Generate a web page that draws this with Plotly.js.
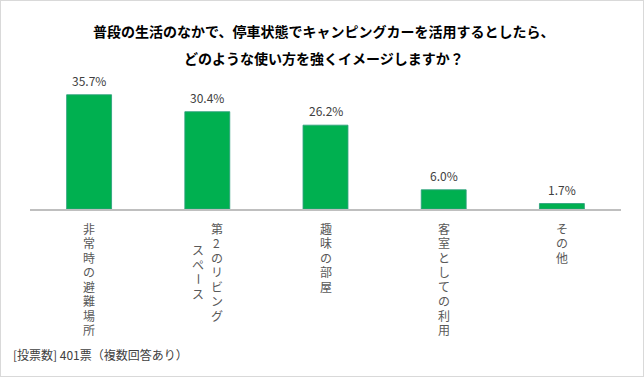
<!DOCTYPE html>
<html>
<head>
<meta charset="utf-8">
<script src="https://cdn.plot.ly/plotly-3.0.1.min.js"></script>
<style>
  html, body { margin: 0; padding: 0; background: #fff; }
  #wrap { position: relative; width: 644px; height: 377px; }
  #chart { width: 644px; height: 377px; }
  #frame { position: absolute; left: 0; top: 0; width: 642px; height: 375px; border: 1px solid #d9d9d9; pointer-events: none; }
</style>
</head>
<body>
<div id="wrap"><div id="chart"></div><div id="frame"></div></div>
<script>
// ---- data ----
const categories = ['非常時の避難場所', '第2のリビング|スペース', '趣味の部屋', '客室としての利用', 'その他'];
const values = [35.7, 30.4, 26.2, 6.0, 1.7];
const titleLines = ['普段の生活のなかで、停車状態でキャンピングカーを活用するとしたら、', 'どのような使い方を強くイメージしますか？'];
const footnote = '[投票数] 401票（複数回答あり）';

const JP = '"Noto Sans CJK JP", "Noto Sans", sans-serif';
const xKeys = categories.map((c, i) => 'c' + i);

const annotations = [];

// title lines
titleLines.forEach((t, i) => {
  annotations.push({
    xref: 'paper', yref: 'paper', x: 0.5, y: 1, xanchor: 'center', yanchor: 'middle',
    xshift: -2, yshift: 50 - i * 27, showarrow: false,
    text: '<b>' + t + '</b>', font: {family: JP, size: 14, color: '#000'}
  });
});

// value labels
values.forEach((v, i) => {
  annotations.push({
    x: xKeys[i], y: v, xref: 'x', yref: 'y', yanchor: 'bottom', yshift: 4,
    showarrow: false, text: v.toFixed(1) + '%',
    font: {family: JP, size: 12, color: '#404040'}
  });
});

// vertical category labels: one character per annotation, columns right-to-left
const STEP = 14.5;
categories.forEach((c, i) => {
  const cols = c.split('|').map(s => Array.from(s));
  const n = cols.length;
  const maxLen = Math.max(...cols.map(a => a.length));
  cols.forEach((chars, j) => {
    const offset = (n - 1) / 2 - j;
    const startShift = (maxLen - chars.length) / 2 * STEP;
    chars.forEach((ch, k) => {
      annotations.push({
        x: xKeys[i], y: 0, xref: 'x', yref: 'paper', yanchor: 'middle', xanchor: 'center',
        xshift: offset * 19, yshift: -(19 + startShift + k * STEP), showarrow: false,
        textangle: ch === 'ー' ? 90 : 0,
        text: ch, font: {family: JP, size: 12, color: '#595959'}
      });
    });
  });
});

// footnote
annotations.push({
  xref: 'paper', yref: 'paper', x: 0, y: 0, xanchor: 'left', yanchor: 'middle',
  xshift: -19, yshift: -145, showarrow: false, text: footnote,
  font: {family: JP, size: 12, color: '#404040'}
});

const trace = {
  type: 'bar', x: xKeys, y: values,
  marker: {color: '#00b050', line: {color: 'rgba(45,160,125,0.85)', width: 1}},
  hoverinfo: 'none'
};

const layout = {
  width: 644, height: 377,
  margin: {l: 30, r: 23, t: 81, b: 168, pad: 0},
  paper_bgcolor: '#fff', plot_bgcolor: '#fff',
  showlegend: false, bargap: 0.62,
  xaxis: {showticklabels: false, ticks: '', showgrid: false, zeroline: false,
          showline: true, linecolor: '#bfbfbf', linewidth: 2, fixedrange: true},
  yaxis: {range: [0, 40], visible: false, showgrid: false, zeroline: false, fixedrange: true},
  annotations: annotations
};

Plotly.newPlot('chart', [trace], layout, {displayModeBar: false, staticPlot: true});
</script>
</body>
</html>
